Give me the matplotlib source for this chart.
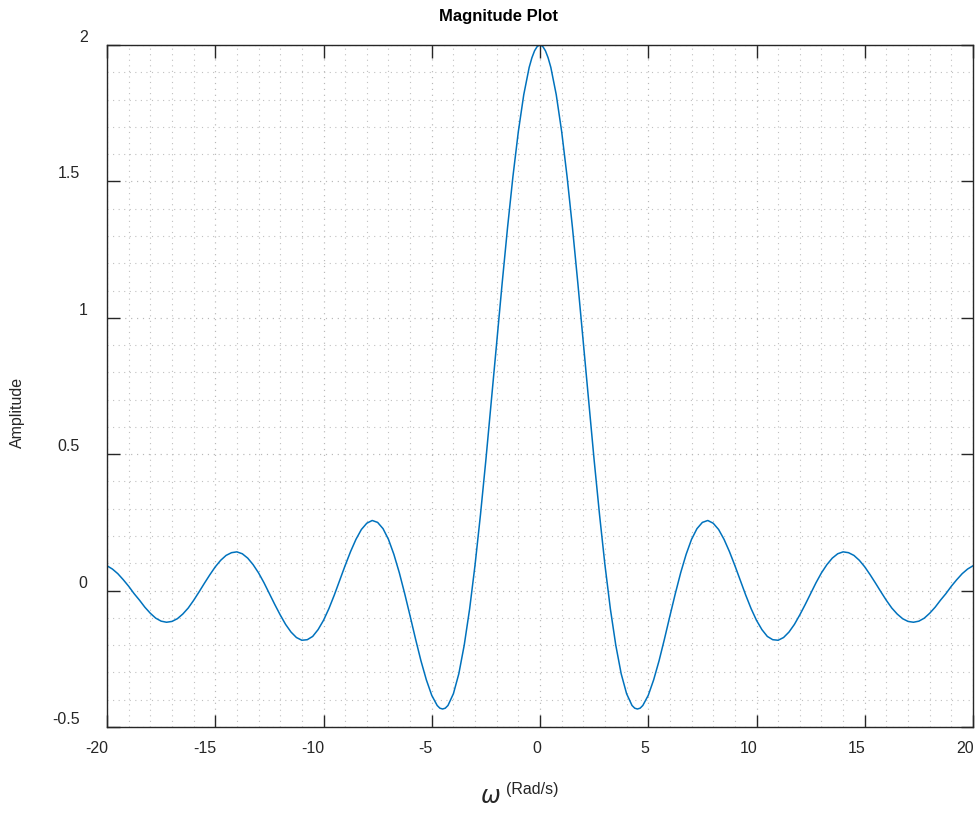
import matplotlib
matplotlib.use('Agg')
import matplotlib.pyplot as plt
import matplotlib.transforms as mtransforms
from matplotlib.ticker import MultipleLocator

# frequency (rad/s) and amplitude
omega = [-20.0, -19.75, -19.5, -19.25, -19.0, -18.75, -18.5, -18.25, -18.0, -17.75,
         -17.5, -17.25, -17.0, -16.75, -16.5, -16.25, -16.0, -15.75, -15.5, -15.25,
         -15.0, -14.75, -14.5, -14.25, -14.0, -13.75, -13.5, -13.25, -13.0, -12.75,
         -12.5, -12.25, -12.0, -11.75, -11.5, -11.25, -11.0, -10.75, -10.5, -10.25,
         -10.0, -9.75, -9.5, -9.25, -9.0, -8.75, -8.5, -8.25, -8.0, -7.75,
         -7.5, -7.25, -7.0, -6.75, -6.5, -6.25, -6.0, -5.75, -5.5, -5.25,
         -5.0, -4.75, -4.625, -4.5, -4.375, -4.25, -4.0, -3.75, -3.5, -3.25, -3.0, -2.75,
         -2.5, -2.25, -2.0, -1.75, -1.5, -1.25, -1.0, -0.75, -0.5, -0.375, -0.25, -0.125,
         0.0, 0.125, 0.25, 0.375, 0.5, 0.75, 1.0, 1.25, 1.5, 1.75, 2.0, 2.25,
         2.5, 2.75, 3.0, 3.25, 3.5, 3.75, 4.0, 4.25, 4.375, 4.5, 4.625, 4.75,
         5.0, 5.25, 5.5, 5.75, 6.0, 6.25, 6.5, 6.75, 7.0, 7.25,
         7.5, 7.75, 8.0, 8.25, 8.5, 8.75, 9.0, 9.25, 9.5, 9.75,
         10.0, 10.25, 10.5, 10.75, 11.0, 11.25, 11.5, 11.75, 12.0, 12.25,
         12.5, 12.75, 13.0, 13.25, 13.5, 13.75, 14.0, 14.25, 14.5, 14.75,
         15.0, 15.25, 15.5, 15.75, 16.0, 16.25, 16.5, 16.75, 17.0, 17.25,
         17.5, 17.75, 18.0, 18.25, 18.5, 18.75, 19.0, 19.25, 19.5, 19.75,
         20.0]
amplitude = [0.091, 0.079, 0.062, 0.040, 0.016, -0.011, -0.035, -0.061, -0.083, -0.101,
             -0.112, -0.116, -0.113, -0.103, -0.086, -0.064, -0.036, -0.005, 0.027, 0.058,
             0.087, 0.111, 0.129, 0.139, 0.142, 0.135, 0.119, 0.095, 0.065, 0.029,
             -0.011, -0.051, -0.089, -0.124, -0.152, -0.172, -0.182, -0.180, -0.168, -0.143,
             -0.109, -0.066, -0.016, 0.038, 0.092, 0.143, 0.188, 0.224, 0.247, 0.257,
             0.250, 0.227, 0.188, 0.133, 0.066, -0.011, -0.093, -0.177, -0.257, -0.327,
             -0.384, -0.421, -0.431, -0.434, -0.431, -0.421, -0.378, -0.305, -0.200, -0.067, 0.094, 0.278,
             0.479, 0.692, 0.909, 1.125, 1.330, 1.518, 1.683, 1.818, 1.918, 1.953, 1.979, 1.995,
             2.000, 1.995, 1.979, 1.953, 1.918, 1.818, 1.683, 1.518, 1.330, 1.125, 0.909, 0.692,
             0.479, 0.278, 0.094, -0.067, -0.200, -0.305, -0.378, -0.421, -0.431, -0.434, -0.431, -0.421,
             -0.384, -0.327, -0.257, -0.177, -0.093, -0.011, 0.066, 0.133, 0.188, 0.227,
             0.250, 0.257, 0.247, 0.224, 0.188, 0.143, 0.092, 0.038, -0.016, -0.066,
             -0.109, -0.143, -0.168, -0.180, -0.182, -0.172, -0.152, -0.124, -0.089, -0.051,
             -0.011, 0.029, 0.065, 0.095, 0.119, 0.135, 0.142, 0.139, 0.129, 0.111,
             0.087, 0.058, 0.027, -0.005, -0.036, -0.064, -0.086, -0.103, -0.113, -0.116,
             -0.112, -0.101, -0.083, -0.061, -0.035, -0.011, 0.016, 0.040, 0.062, 0.079,
             0.091]

xticks = [-20, -15, -10, -5, 0, 5, 10, 15, 20]
yticks = [-0.5, 0, 0.5, 1, 1.5, 2]
ytick_labels = ['-0.5', '0', '0.5', '1', '1.5', '2']

plt.rcParams['font.family'] = ['Liberation Sans', 'DejaVu Sans']

W, H = 980, 813
fig = plt.figure(figsize=(W / 100, H / 100), dpi=100)
ax = fig.add_axes([107 / W, 1 - 727 / H, (973 - 107) / W, (727 - 45) / H])

ax.plot(omega, amplitude, color='#0072BD', linewidth=1.1)

ax.set_xlim(-20, 20)
ax.set_ylim(-0.5, 2)
ax.set_xticks(xticks)
ax.set_xticklabels([str(t) for t in xticks])
ax.set_yticks(yticks)
ax.set_yticklabels(ytick_labels)
ax.xaxis.set_minor_locator(MultipleLocator(1))
ax.yaxis.set_minor_locator(MultipleLocator(0.1))

ax.grid(which='major', color='#b8b8b8', linestyle=(0, (1, 4)), linewidth=0.85)
ax.grid(which='minor', color='#c0c0c0', linestyle=(0, (1, 4)), linewidth=0.8)
ax.set_axisbelow(True)

ax.tick_params(which='major', direction='in', length=9, width=1.0, color='#262626',
               top=True, right=True, labelsize=11.5, labelcolor='#262626')
ax.tick_params(axis='y', pad=14)
ax.tick_params(axis='x', pad=10)
ax.tick_params(which='minor', length=0, top=True, right=True)
for s in ax.spines.values():
    s.set_color('#262626')
    s.set_linewidth(1.0)

# MATLAB export: x labels end at their tick, y labels sit on top of their tick
for lab in ax.get_xticklabels():
    lab.set_horizontalalignment('right')
    lab.set_transform(lab.get_transform() +
                      mtransforms.ScaledTranslation(1 / 100, 0, fig.dpi_scale_trans))
for lab in ax.get_yticklabels():
    lab.set_verticalalignment('bottom')
    dx = -8 / 100 if '.' in lab.get_text() else 0
    lab.set_transform(lab.get_transform() +
                      mtransforms.ScaledTranslation(dx, 0, fig.dpi_scale_trans))

fig.text(498 / W, 1 - 17 / H, 'Magnitude Plot', ha='center', va='center',
         fontsize=12, fontweight='bold', color='black')
fig.text(17 / W, 1 - 412 / H, 'Amplitude', ha='center', va='center',
         rotation=90, fontsize=11.5, color='#262626')
fig.text(490 / W, 1 - 797 / H, r'$\omega$', ha='center', va='center',
         fontsize=17, color='#262626')
fig.text(532 / W, 1 - 789 / H, '(Rad/s)', ha='center', va='center',
         fontsize=11.5, color='#262626')

fig.savefig('out.png', dpi=100, facecolor='white')
